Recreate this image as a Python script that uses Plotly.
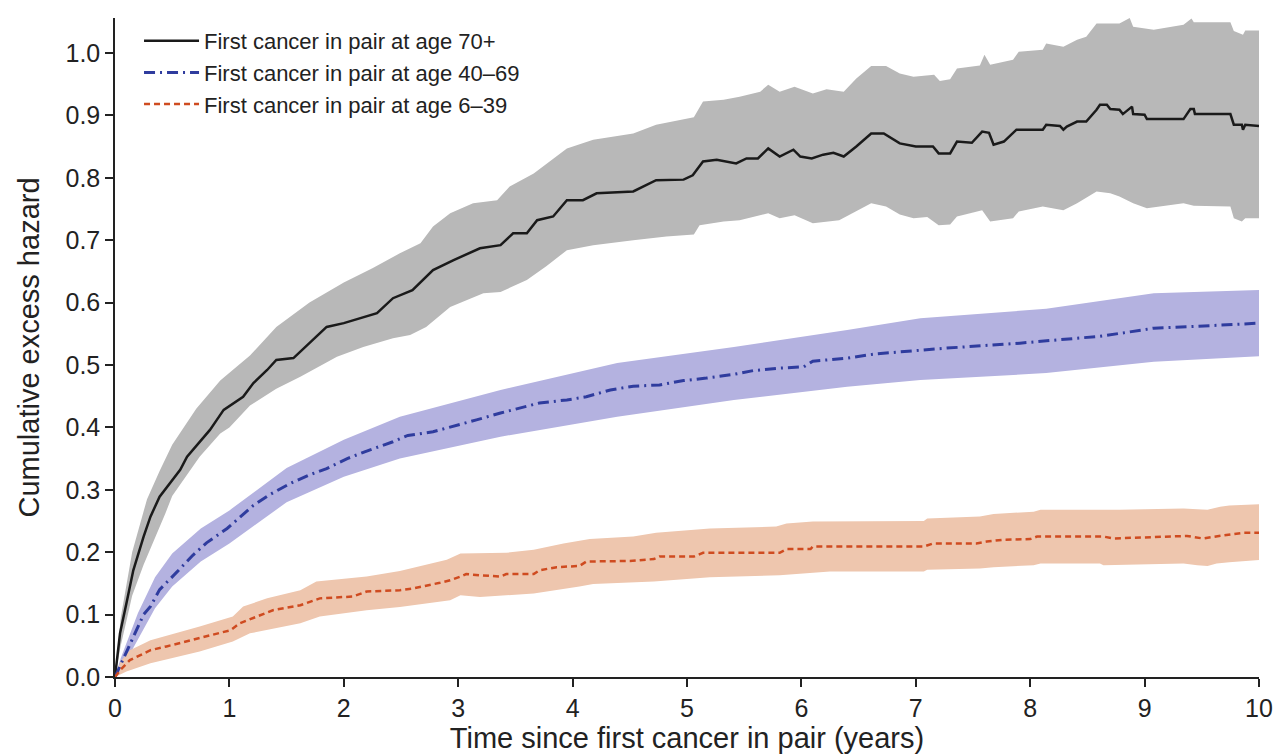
import plotly.graph_objects as go

# ---- Data ----
# First cancer in pair at age 70+
t70 = [0, 0.044, 0.10, 0.16, 0.25, 0.31, 0.39, 0.48, 0.57, 0.63, 0.73, 0.83, 0.89, 0.95, 1.12, 1.21, 1.33, 1.41,
       1.56, 1.70, 1.85, 2.0, 2.17, 2.29, 2.43, 2.6, 2.78, 2.96, 3.19, 3.37, 3.48, 3.60, 3.69, 3.83, 3.95, 4.09,
       4.21, 4.53, 4.73, 4.97, 5.05, 5.14, 5.26, 5.43, 5.52, 5.62, 5.71, 5.81, 5.93, 5.99, 6.09, 6.19, 6.28, 6.37,
       6.48, 6.61, 6.72, 6.86, 7.0, 7.15, 7.20, 7.30, 7.36, 7.49, 7.58, 7.64, 7.68, 7.77, 7.88, 8.11, 8.14, 8.26,
       8.29, 8.32, 8.41, 8.49, 8.58, 8.61, 8.67, 8.70, 8.78, 8.81, 8.89, 8.90, 9.00, 9.02, 9.34, 9.40, 9.43, 9.44,
       9.75, 9.78, 9.85, 9.86, 9.88, 10.0]
h70 = [0, 0.07, 0.118, 0.171, 0.225, 0.257, 0.289, 0.310, 0.332, 0.353, 0.374, 0.396, 0.412, 0.428, 0.449, 0.471,
       0.492, 0.508, 0.511, 0.535, 0.561, 0.567, 0.577, 0.583, 0.607, 0.620, 0.652, 0.668, 0.687, 0.692, 0.711,
       0.711, 0.732, 0.738, 0.764, 0.764, 0.775, 0.778, 0.796, 0.797, 0.804, 0.826, 0.829, 0.823, 0.831, 0.831,
       0.847, 0.834, 0.845, 0.834, 0.831, 0.837, 0.840, 0.834, 0.850, 0.871, 0.871, 0.855, 0.850, 0.850, 0.839,
       0.839, 0.858, 0.856, 0.874, 0.872, 0.853, 0.858, 0.877, 0.877, 0.885, 0.883, 0.877, 0.882, 0.890, 0.890,
       0.909, 0.917, 0.917, 0.910, 0.909, 0.902, 0.914, 0.902, 0.901, 0.894, 0.894, 0.910, 0.910, 0.902, 0.902,
       0.885, 0.885, 0.877, 0.885, 0.883]
t70_up = [0, 0.05, 0.15, 0.28, 0.39, 0.5, 0.71, 0.92, 1.18, 1.41, 1.70, 2.0, 2.25, 2.49, 2.67, 2.78, 2.93, 3.13,
          3.34, 3.45, 3.66, 3.86, 3.95, 4.18, 4.53, 4.73, 5.06, 5.14, 5.32, 5.46, 5.64, 5.71, 5.81, 5.94, 6.10,
          6.22, 6.37, 6.48, 6.61, 6.74, 6.86, 6.98, 7.16, 7.21, 7.30, 7.36, 7.56, 7.60, 7.65, 7.85, 7.90, 8.11,
          8.14, 8.29, 8.41, 8.49, 8.58, 8.78, 8.87, 8.90, 9.08, 9.34, 9.41, 9.43, 9.75, 9.78, 9.86, 9.88, 10.0]
h70_up = [0, 0.095, 0.20, 0.285, 0.33, 0.372, 0.43, 0.475, 0.515, 0.561, 0.600, 0.632, 0.655, 0.679, 0.695, 0.722,
          0.743, 0.759, 0.764, 0.786, 0.807, 0.834, 0.847, 0.861, 0.871, 0.885, 0.897, 0.922, 0.925, 0.930, 0.938,
          0.949, 0.938, 0.946, 0.935, 0.942, 0.938, 0.959, 0.979, 0.979, 0.967, 0.962, 0.965, 0.955, 0.958, 0.975,
          0.980, 0.997, 0.981, 0.989, 1.002, 1.005, 1.015, 1.010, 1.021, 1.026, 1.047, 1.047, 1.056, 1.042, 1.037,
          1.045, 1.055, 1.049, 1.049, 1.035, 1.029, 1.036, 1.036]
t70_lo = [0, 0.05, 0.15, 0.25, 0.44, 0.5, 0.74, 0.92, 1.0, 1.18, 1.41, 1.62, 1.94, 2.17, 2.43, 2.58, 2.72, 2.93,
          3.22, 3.37, 3.60, 3.77, 3.95, 4.18, 4.53, 4.82, 5.06, 5.11, 5.32, 5.46, 5.71, 5.81, 5.94, 6.10, 6.33,
          6.48, 6.61, 6.74, 6.86, 6.98, 7.10, 7.20, 7.30, 7.36, 7.58, 7.65, 7.85, 7.90, 8.11, 8.29, 8.41, 8.58,
          8.70, 8.78, 8.90, 9.02, 9.34, 9.43, 9.75, 9.78, 9.85, 9.88, 10.0]
h70_lo = [0, 0.05, 0.13, 0.18, 0.262, 0.29, 0.353, 0.390, 0.40, 0.435, 0.462, 0.481, 0.513, 0.529, 0.543, 0.548,
          0.561, 0.593, 0.615, 0.617, 0.636, 0.658, 0.684, 0.692, 0.700, 0.706, 0.709, 0.724, 0.730, 0.732, 0.743,
          0.735, 0.740, 0.727, 0.732, 0.746, 0.759, 0.754, 0.741, 0.735, 0.737, 0.724, 0.725, 0.738, 0.748, 0.730,
          0.735, 0.746, 0.754, 0.748, 0.759, 0.778, 0.775, 0.770, 0.759, 0.751, 0.759, 0.755, 0.754, 0.735, 0.730,
          0.735, 0.735]

# First cancer in pair at age 40-69
t40 = [0, 0.05, 0.13, 0.25, 0.31, 0.39, 0.54, 0.68, 0.80, 0.98, 1.21, 1.35, 1.53, 1.70, 1.85, 2.03, 2.23, 2.43,
       2.56, 2.78, 3.16, 3.37, 3.71, 3.95, 4.12, 4.33, 4.53, 4.76, 4.97, 5.17, 5.41, 5.58, 5.81, 6.02, 6.10, 6.40,
       6.66, 7.27, 7.91, 8.61, 8.87, 9.08, 9.46, 9.95, 10.0]
h40 = [0, 0.02, 0.054, 0.100, 0.113, 0.140, 0.168, 0.195, 0.215, 0.238, 0.275, 0.292, 0.310, 0.324, 0.334, 0.350,
       0.364, 0.377, 0.387, 0.393, 0.412, 0.423, 0.439, 0.444, 0.449, 0.460, 0.466, 0.468, 0.475, 0.479, 0.485,
       0.491, 0.495, 0.497, 0.506, 0.511, 0.518, 0.527, 0.535, 0.546, 0.553, 0.559, 0.562, 0.567, 0.567]
t40_band = [0, 0.05, 0.2, 0.35, 0.5, 0.75, 1.0, 1.5, 2.0, 2.49, 3.37, 4.39, 5.41, 6.40, 7.04, 8.14, 9.08, 10.0]
h40_up = [0, 0.03, 0.102, 0.16, 0.198, 0.238, 0.267, 0.335, 0.380, 0.417, 0.460, 0.503, 0.529, 0.556, 0.575, 0.590,
          0.615, 0.620]
h40_lo = [0, 0.01, 0.06, 0.11, 0.145, 0.185, 0.214, 0.28, 0.321, 0.350, 0.385, 0.417, 0.444, 0.465, 0.476, 0.487,
          0.505, 0.514]

# First cancer in pair at age 6-39
t6 = [0, 0.05, 0.13, 0.31, 0.45, 0.74, 1.01, 1.09, 1.24, 1.38, 1.62, 1.79, 2.08, 2.20, 2.49, 2.61, 2.84, 2.93, 3.02,
      3.07, 3.19, 3.37, 3.42, 3.66, 3.71, 3.86, 4.06, 4.12, 4.50, 4.71, 4.76, 5.06, 5.14, 5.81, 5.87, 6.08, 6.10,
      7.07, 7.15, 7.53, 7.62, 7.77, 8.00, 8.06, 8.64, 8.73, 9.37, 9.51, 9.65, 9.86, 10.0]
h6 = [0, 0.012, 0.027, 0.043, 0.049, 0.062, 0.075, 0.086, 0.097, 0.107, 0.115, 0.126, 0.129, 0.137, 0.139, 0.142,
      0.151, 0.155, 0.161, 0.165, 0.163, 0.161, 0.165, 0.165, 0.171, 0.176, 0.178, 0.185, 0.186, 0.189, 0.193,
      0.193, 0.199, 0.199, 0.205, 0.205, 0.209, 0.209, 0.214, 0.214, 0.217, 0.220, 0.221, 0.225, 0.225, 0.222,
      0.226, 0.222, 0.226, 0.231, 0.231]
t6_up = [0, 0.05, 0.13, 0.31, 0.74, 1.03, 1.12, 1.33, 1.62, 1.76, 2.20, 2.49, 2.90, 3.02, 3.42, 3.66, 3.92, 4.15,
         4.53, 4.73, 5.20, 5.78, 5.87, 6.10, 7.07, 7.10, 7.56, 7.68, 8.03, 8.09, 8.78, 9.34, 9.46, 9.55, 9.66, 9.74,
         10.0]
h6_up = [0, 0.025, 0.043, 0.059, 0.081, 0.097, 0.113, 0.126, 0.139, 0.153, 0.161, 0.170, 0.188, 0.198, 0.199, 0.204,
         0.214, 0.221, 0.225, 0.231, 0.238, 0.241, 0.246, 0.249, 0.250, 0.254, 0.257, 0.261, 0.265, 0.268, 0.268,
         0.270, 0.269, 0.268, 0.273, 0.275, 0.277]
t6_lo = [0, 0.10, 0.31, 0.74, 1.03, 1.18, 1.62, 1.79, 2.20, 2.49, 2.93, 3.02, 3.19, 3.42, 3.66, 4.06, 4.18, 4.71,
         5.20, 5.81, 6.25, 7.07, 7.10, 7.56, 7.68, 8.03, 8.09, 8.61, 8.64, 9.34, 9.46, 9.55, 9.63, 9.74, 10.0]
h6_lo = [0, 0.009, 0.022, 0.041, 0.057, 0.070, 0.086, 0.097, 0.107, 0.112, 0.123, 0.131, 0.128, 0.131, 0.134, 0.145,
         0.149, 0.153, 0.160, 0.163, 0.169, 0.169, 0.172, 0.174, 0.176, 0.179, 0.182, 0.182, 0.179, 0.182, 0.179,
         0.178, 0.182, 0.184, 0.1875]

x_ticks = [0, 1, 2, 3, 4, 5, 6, 7, 8, 9, 10]
y_ticks = [0.0, 0.1, 0.2, 0.3, 0.4, 0.5, 0.6, 0.7, 0.8, 0.9, 1.0]

FONT = "Liberation Sans, Arial, sans-serif"

fig = go.Figure()

bands = [
    (t70_lo, h70_lo, t70_up, h70_up, "#b8b8b8"),
    (t40_band, h40_lo, t40_band, h40_up, "#b4b2e0"),
    (t6_lo, h6_lo, t6_up, h6_up, "#eec6ae"),
]
for tl, hl, tu, hu, col in bands:
    fig.add_trace(go.Scatter(x=tl, y=hl, mode="lines", line=dict(width=0, color=col),
                             showlegend=False, hoverinfo="skip"))
    fig.add_trace(go.Scatter(x=tu, y=hu, mode="lines", line=dict(width=0, color=col),
                             fill="tonexty", fillcolor=col, showlegend=False, hoverinfo="skip"))

fig.add_trace(go.Scatter(x=t70, y=h70, mode="lines", name="First cancer in pair at age 70+",
                         line=dict(color="#1a1a1a", width=2.5)))
fig.add_trace(go.Scatter(x=t40, y=h40, mode="lines", name="First cancer in pair at age 40\u201369",
                         line=dict(color="#2f3c9e", width=3, dash="11px,5px,2px,5px")))
fig.add_trace(go.Scatter(x=t6, y=h6, mode="lines", name="First cancer in pair at age 6\u201339",
                         line=dict(color="#cf4b20", width=2.5, dash="6px,4px")))

fig.update_layout(
    width=1277, height=754,
    margin=dict(l=115, r=18, t=18, b=77, autoexpand=False),
    paper_bgcolor="white", plot_bgcolor="white",
    font=dict(family=FONT, size=25, color="#222222"),
    legend=dict(x=0.021, y=0.997, xanchor="left", yanchor="top", bgcolor="rgba(0,0,0,0)",
                font=dict(size=22, color="#222222"), traceorder="normal", tracegroupgap=0,
                itemwidth=55),
    showlegend=True,
)
fig.update_xaxes(range=[0, 10], tickvals=x_ticks, ticktext=[str(v) for v in x_ticks],
                 showgrid=False, zeroline=False, showline=True, linecolor="#222222", linewidth=1.5,
                 ticks="outside", ticklen=8, tickwidth=1.5, tickcolor="#222222",
                 tickfont=dict(size=25), automargin=False,
                 title=dict(text="Time since first cancer in pair (years)", font=dict(size=29), standoff=4))
fig.update_yaxes(range=[0, 1.056], tickvals=y_ticks, ticktext=[f"{v:.1f}" for v in y_ticks],
                 showgrid=False, zeroline=False, showline=True, linecolor="#222222", linewidth=1.5,
                 ticks="outside", ticklen=8, tickwidth=1.5, tickcolor="#222222",
                 tickfont=dict(size=25), automargin=False,
                 title=dict(text="Cumulative excess hazard", font=dict(size=29), standoff=17))

fig.write_html("out.html")
